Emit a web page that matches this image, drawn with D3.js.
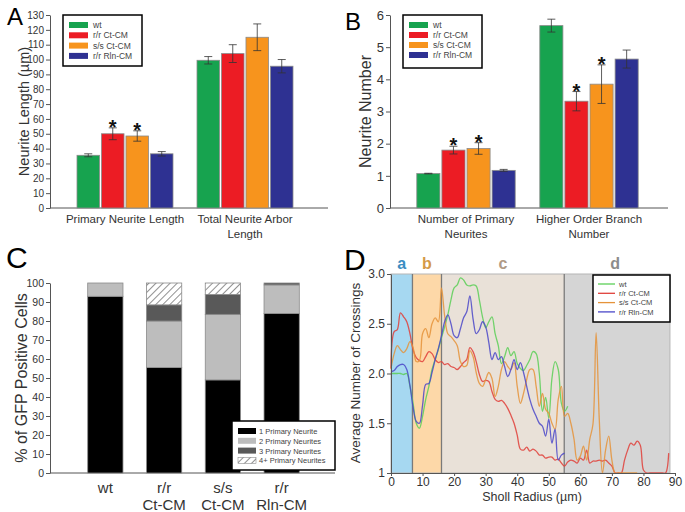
<!DOCTYPE html>
<html><head><meta charset="utf-8">
<script src="https://cdn.jsdelivr.net/npm/d3@7"></script>
<style>body{margin:0;background:#fff}text{font-family:"Liberation Sans",Arial,sans-serif;fill:#333}</style>
</head><body><svg id="fig" width="685" height="512"></svg>
<script>
// ---------------- DATA ----------------
const seriesNames = ["wt", "r/r Ct-CM", "s/s Ct-CM", "r/r Rln-CM"];
const seriesColors = ["#17a34f", "#ec1c24", "#f7941d", "#2e3192"];

// Panel A
const groupsA = [["Primary Neurite Length"], ["Total Neurite Arbor", "Length"]];
const lengthMeans = [[35.5, 50, 48.5, 36.5], [99.5, 104, 115, 95.5]];
const lengthErr = [[1, 4, 3.5, 1.5], [2.5, 6, 9, 4.5]];
const lengthSig = [[0, 1, 1, 0], [0, 0, 0, 0]];
const ticksA = d3.range(0, 131, 10);

// Panel B
const groupsB = [["Number of Primary", "Neurites"], ["Higher Order Branch", "Number"]];
const numberMeans = [[1.07, 1.8, 1.85, 1.17], [5.67, 3.32, 3.85, 4.63]];
const numberErr = [[0.01, 0.12, 0.18, 0.03], [0.2, 0.3, 0.6, 0.28]];
const numberSig = [[0, 1, 1, 0], [0, 1, 1, 0]];
const ticksB = [0, 1, 2, 3, 4, 5, 6];

// Panel C
const conditionsC = [["wt"], ["r/r", "Ct-CM"], ["s/s", "Ct-CM"], ["r/r", "Rln-CM"]];
const neuriteClasses = ["1 Primary Neurite", "2 Primary Neurites", "3 Primary Neurites", "4+ Primary Neurites"];
const pctOne = [93, 55.5, 49, 84];
const pctTwo = [7, 24.5, 34.5, 15];
const pctThree = [0, 8.5, 10.5, 1];
const pctFour = [0, 11.5, 6, 0];
const classColors = ["#000000", "#bdbdbd", "#595959", "url(#hatch)"];
const ticksC = d3.range(0, 101, 10);

// Panel D (Sholl analysis, radius in µm, 1 µm steps)
const radius = d3.range(0, 89);
const crossWt = [2.00,2.00,2.00,2.00,1.99,2.00,1.87,1.70,1.50,1.45,1.57,1.74,1.87,2.04,2.14,2.24,2.36,2.47,2.59,2.74,
  2.86,2.89,2.96,2.94,2.89,2.88,2.89,2.88,2.74,2.57,2.46,2.52,2.57,2.40,2.28,2.10,2.17,2.26,2.18,2.22,
  2.10,2.05,2.03,2.08,2.14,2.22,2.20,2.00,1.62,1.76,1.55,1.95,2.12,2.04,1.70,1.62,1.67];
const crossRr = [2.05,2.42,2.44,2.61,2.57,2.52,2.40,2.24,2.16,2.13,2.12,2.17,2.22,2.20,2.14,2.11,2.12,2.09,2.10,2.07,
  2.06,2.04,2.07,2.11,2.14,2.26,2.22,2.12,1.99,1.92,1.93,1.92,1.82,1.74,1.72,1.73,1.70,1.65,1.58,1.50,
  1.38,1.24,1.23,1.26,1.22,1.24,1.22,1.18,1.18,1.15,1.16,1.16,1.13,1.14,1.10,1.07,1.11,1.13,1.12,1.10,
  1.15,1.13,1.23,1.10,1.12,1.12,1.13,1.12,1.13,1.10,1.07,1.00,1.00,1.00,1.13,1.23,1.30,1.28,1.32,1.28,
  1.03,1.00,1.00,1.00,1.00,1.00,1.00,1.00,1.20];
const crossSs = [2.05,2.20,2.28,2.24,2.21,2.25,2.32,2.26,2.12,2.13,2.40,2.45,2.36,2.50,2.56,2.52,2.86,2.58,2.40,2.37,
  2.33,2.28,2.12,2.07,2.08,2.23,2.17,2.01,1.90,1.87,1.94,2.01,1.95,1.77,1.87,2.04,2.12,2.07,2.04,2.11,
  1.87,1.70,1.80,1.94,2.04,2.04,1.87,1.67,1.80,1.64,1.60,1.50,1.44,1.74,1.87,1.57,1.60,1.50,1.34,1.13,
  1.17,1.27,1.13,1.34,1.49,2.41,1.54,1.00,1.23,1.37,1.13,1.00,1.00,1.00,1.00,1.00,1.00,1.00,1.00];
const crossRln = [2.02,2.03,2.07,2.09,2.09,2.04,1.88,1.66,1.52,1.50,1.68,1.89,1.90,2.01,2.14,2.25,2.38,2.52,2.59,2.50,
  2.38,2.36,2.45,2.56,2.62,2.78,2.55,2.40,2.44,2.52,2.47,2.31,2.14,2.21,2.14,2.17,2.07,1.97,2.04,2.14,
  2.04,2.11,2.01,1.87,1.74,1.64,1.57,1.50,1.47,1.37,1.54,1.30,1.44,1.13,1.18,1.20];
const crossingSeries = [crossWt, crossRr, crossSs, crossRln];
const lineColors = ["#5ccf57", "#e0403a", "#e5933a", "#4b48c9"];
const zoneNames = ["a", "b", "c", "d"];
const zoneBounds = [0, 6.8, 16, 54.9, 88.4];
const zoneFills = ["#a6d8f1", "#fdd8a8", "#e9e1d8", "#d5d5d5"];
const zoneLabelColors = ["#3a8dc2", "#d49a48", "#b09a86", "#8c8c8c"];
const ticksDx = d3.range(0, 91, 10);
const ticksDy = [1, 1.5, 2, 2.5, 3];

// ---------------- DRAW ----------------
const svg = d3.select("#fig");
const defs = svg.append("defs");
const pat = defs.append("pattern").attr("id", "hatch").attr("patternUnits", "userSpaceOnUse")
  .attr("width", 5).attr("height", 5).attr("patternTransform", "rotate(45)");
pat.append("rect").attr("width", 5).attr("height", 5).attr("fill", "#fff");
pat.append("line").attr("x1", 0).attr("y1", 0).attr("x2", 0).attr("y2", 5)
  .attr("stroke", "#555").attr("stroke-width", 1.3);

function panelLetter(t, x, y, size) {
  svg.append("text").attr("x", x).attr("y", y).attr("font-size", size).style("fill", "#000").text(t);
}

function styleAxis(g) {
  g.select(".domain").attr("stroke", "#555");
  g.selectAll(".tick line").attr("stroke", "#555");
}

function barPanel(o) {
  const y = d3.scaleLinear().domain([0, o.max]).range([o.y0, o.y1]);
  const x0 = d3.scaleBand().domain(d3.range(o.groups.length)).range(o.xr).paddingInner(0.2).paddingOuter(0.1);
  const x1 = d3.scaleBand().domain(d3.range(seriesNames.length)).range([0, x0.bandwidth()]).paddingInner(0.08);
  const g = svg.append("g");
  const ax = g.append("g").attr("transform", `translate(${o.left},0)`)
    .call(d3.axisLeft(y).tickValues(o.ticks).tickFormat(d3.format("d")).tickSize(4).tickSizeOuter(0).tickPadding(2));
  ax.selectAll("text").attr("font-size", o.tickFont).style("fill", "#333").attr("font-family", "Liberation Sans, Arial");
  styleAxis(ax);
  g.append("line").attr("x1", o.left).attr("x2", o.right).attr("y1", y(0)).attr("y2", y(0)).attr("stroke", "#555");
  o.groups.forEach((lab, gi) => {
    const gg = g.append("g").attr("transform", `translate(${x0(gi)},0)`);
    o.means[gi].forEach((m, si) => {
      const bx = x1(si), bw = x1.bandwidth(), cx = bx + bw / 2;
      gg.append("rect").attr("x", bx).attr("y", y(m)).attr("width", bw).attr("height", y(0) - y(m))
        .attr("fill", seriesColors[si]).attr("stroke", "#8a8a8a").attr("stroke-width", 0.8);
      const e = o.err[gi][si];
      const yt = y(m + e), yb = y(m - e);
      gg.append("line").attr("x1", cx).attr("x2", cx).attr("y1", yt).attr("y2", yb).attr("stroke", "#333").attr("stroke-width", 0.8);
      [yt, yb].forEach(yy => gg.append("line").attr("x1", cx - 4).attr("x2", cx + 4).attr("y1", yy).attr("y2", yy).attr("stroke", "#333").attr("stroke-width", 0.8));
      if (o.sig[gi][si]) {
        gg.append("text").attr("x", cx).attr("y", yt + 6).attr("text-anchor", "middle")
          .attr("font-size", 20).attr("font-weight", "bold").style("fill", "#111").text("*");
      }
    });
    lab.forEach((line, li) => {
      g.append("text").attr("x", x0(gi) + x0.bandwidth() / 2).attr("y", o.labY + li * 14.5)
        .attr("text-anchor", "middle").attr("font-size", o.catFont).text(line);
    });
  });
  g.append("text").attr("transform", `translate(${o.ylabX},${(o.y0 + o.y1) / 2}) rotate(-90)`)
    .attr("text-anchor", "middle").attr("font-size", o.ylabFont).text(o.ylab);
  // legend
  const L = o.legend;
  g.append("rect").attr("x", L.x).attr("y", L.y).attr("width", L.w).attr("height", L.h)
    .attr("fill", "#fff").attr("stroke", "#000").attr("stroke-width", 1.5);
  seriesNames.forEach((s, i) => {
    const ry = L.y + 10 + i * L.step;
    g.append("rect").attr("x", L.x + 6).attr("y", ry - 3).attr("width", 19).attr("height", 6).attr("fill", seriesColors[i]);
    g.append("text").attr("x", L.x + 30).attr("y", ry + 3).attr("font-size", 8.5).style("fill", "#444").text(s);
  });
}

barPanel({max: 130, y0: 208, y1: 15, left: 50, right: 328, xr: [65, 305], groups: groupsA,
  means: lengthMeans, err: lengthErr, sig: lengthSig, ticks: ticksA, tickFont: 10,
  labY: 223, catFont: 11.5, ylab: "Neurite Length (µm)", ylabX: 29, ylabFont: 14.5,
  legend: {x: 63, y: 15, w: 79, h: 51, step: 10.3}});
barPanel({max: 6, y0: 208, y1: 15, left: 390, right: 668, xr: [404.5, 650.5], groups: groupsB,
  means: numberMeans, err: numberErr, sig: numberSig, ticks: ticksB, tickFont: 13,
  labY: 223, catFont: 11.5, ylab: "Neurite Number", ylabX: 371, ylabFont: 16,
  legend: {x: 403, y: 15, w: 79, h: 53, step: 10}});
panelLetter("A", 7, 25, 24);
panelLetter("B", 345, 30, 24);

// Panel C
(function () {
  const y = d3.scaleLinear().domain([0, 100]).range([473, 283]);
  const x = d3.scaleBand().domain(d3.range(conditionsC.length)).range([64.2, 322.8]).padding(0.4);
  const table = conditionsC.map((c, i) => ({k0: pctOne[i], k1: pctTwo[i], k2: pctThree[i], k3: pctFour[i]}));
  const stack = d3.stack().keys(["k0", "k1", "k2", "k3"])(table);
  const g = svg.append("g");
  const ax = g.append("g").attr("transform", "translate(50,0)")
    .call(d3.axisLeft(y).tickValues(ticksC).tickSize(4).tickSizeOuter(0).tickPadding(2));
  ax.selectAll("text").attr("font-size", 10.5).style("fill", "#333");
  styleAxis(ax);
  g.append("line").attr("x1", 50).attr("x2", 335).attr("y1", y(0)).attr("y2", y(0)).attr("stroke", "#555");
  stack.forEach((layer, li) => {
    g.selectAll(null).data(layer).join("rect")
      .attr("x", (d, i) => x(i)).attr("width", x.bandwidth())
      .attr("y", d => y(d[1])).attr("height", d => y(d[0]) - y(d[1]))
      .attr("fill", classColors[li]).attr("stroke", "#8a8a8a").attr("stroke-width", 0.8);
  });
  conditionsC.forEach((lab, i) => lab.forEach((t, li) => {
    g.append("text").attr("x", x(i) + x.bandwidth() / 2).attr("y", 493 + li * 17)
      .attr("text-anchor", "middle").attr("font-size", 15).text(t);
  }));
  g.append("text").attr("transform", "translate(27,378) rotate(-90)").attr("text-anchor", "middle")
    .attr("font-size", 16).text("% of GFP Positive Cells");
  g.append("rect").attr("x", 232).attr("y", 421).attr("width", 103).attr("height", 49)
    .attr("fill", "#fff").attr("stroke", "#000").attr("stroke-width", 1.5);
  neuriteClasses.forEach((t, i) => {
    const ry = 431 + i * 9.8;
    g.append("rect").attr("x", 238).attr("y", ry - 3).attr("width", 18).attr("height", 6)
      .attr("fill", classColors[i]).attr("stroke", i === 3 ? "#777" : "none").attr("stroke-width", 0.5);
    g.append("text").attr("x", 259).attr("y", ry + 3).attr("font-size", 7.5).style("fill", "#444").text(t);
  });
  panelLetter("C", 6, 268, 30);
})();

// Panel D
(function () {
  const x = d3.scaleLinear().domain([0, 90]).range([391, 675]);
  const y = d3.scaleLinear().domain([1, 3]).range([473, 274]);
  const g = svg.append("g");
  zoneNames.forEach((z, i) => {
    g.append("rect").attr("x", x(zoneBounds[i])).attr("y", y(3)).attr("width", x(zoneBounds[i + 1]) - x(zoneBounds[i]))
      .attr("height", y(1) - y(3)).attr("fill", zoneFills[i]);
    g.append("text").attr("x", (x(zoneBounds[i]) + x(zoneBounds[i + 1])) / 2 + (i === 3 ? -2 : 0)).attr("y", 269)
      .attr("text-anchor", "middle").attr("font-size", 16).attr("font-weight", "bold")
      .style("fill", zoneLabelColors[i]).text(z);
  });
  g.append("rect").attr("x", x(0)).attr("y", y(3)).attr("width", x(zoneBounds[4]) - x(0)).attr("height", y(1) - y(3))
    .attr("fill", "none").attr("stroke", "#b5b5b5").attr("stroke-width", 1);
  zoneBounds.slice(1, 4).forEach(b => g.append("line").attr("x1", x(b)).attr("x2", x(b)).attr("y1", y(3)).attr("y2", y(1))
    .attr("stroke", "#7a7a7a").attr("stroke-width", 1.3));
  const line = d3.line().x((d, i) => x(radius[i])).y(d => y(d)).curve(d3.curveCatmullRom.alpha(0.5));
  crossingSeries.forEach((s, i) => {
    g.append("path").attr("d", line(s)).attr("fill", "none").attr("stroke", lineColors[i])
      .attr("stroke-width", 1.3).attr("stroke-opacity", 0.85);
  });
  const ax = g.append("g").attr("transform", `translate(0,${y(1)})`)
    .call(d3.axisBottom(x).tickValues(ticksDx).tickSize(3).tickSizeOuter(0).tickPadding(1));
  ax.selectAll("text").attr("font-size", 12).style("fill", "#333");
  styleAxis(ax);
  const ay = g.append("g").attr("transform", `translate(${x(0)},0)`)
    .call(d3.axisLeft(y).tickValues(ticksDy).tickSize(4).tickSizeOuter(0).tickPadding(2)
      .tickFormat(d => d === 1 ? "1" : d.toFixed(1)));
  ay.selectAll("text").attr("font-size", 12).style("fill", "#333");
  styleAxis(ay);
  g.append("text").attr("x", 532).attr("y", 501).attr("text-anchor", "middle").attr("font-size", 12.5).text("Sholl Radius (µm)");
  g.append("text").attr("transform", "translate(360,373) rotate(-90)").attr("text-anchor", "middle")
    .attr("font-size", 13.5).text("Average Number of Crossings");
  g.append("rect").attr("x", 593).attr("y", 275).attr("width", 77).attr("height", 47)
    .attr("fill", "#fff").attr("stroke", "#000").attr("stroke-width", 1.5);
  seriesNames.forEach((s, i) => {
    const ry = 284 + i * 9.3;
    g.append("line").attr("x1", 598).attr("x2", 615).attr("y1", ry).attr("y2", ry).attr("stroke", lineColors[i]).attr("stroke-width", 1.3);
    g.append("text").attr("x", 619).attr("y", ry + 2.8).attr("font-size", 7.5).style("fill", "#444").text(s);
  });
  panelLetter("D", 344, 270, 30);
})();
</script></body></html>
